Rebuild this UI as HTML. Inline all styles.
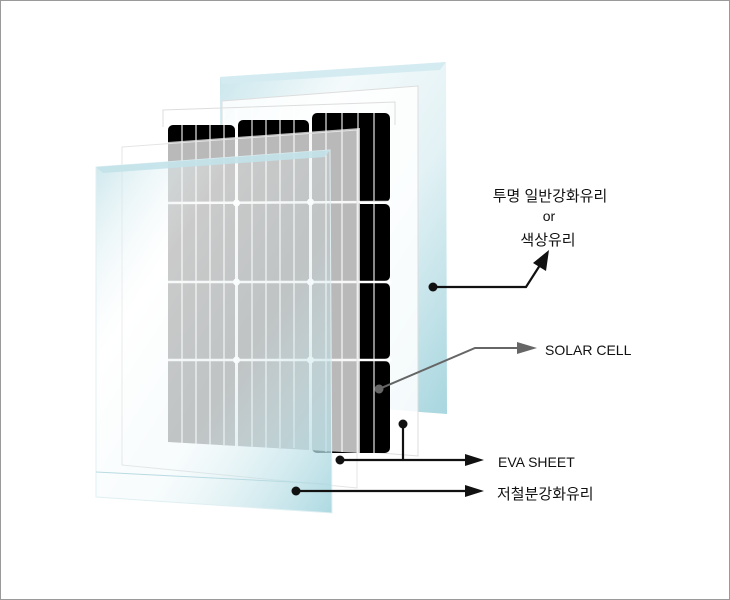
<!DOCTYPE html>
<html><head><meta charset="utf-8"><style>
html,body{margin:0;padding:0;background:#fff}
svg{display:block}
text{font-family:"Liberation Sans","Noto Sans CJK KR",sans-serif;fill:#111}
</style></head><body>
<svg width="730" height="600" viewBox="0 0 730 600" xmlns="http://www.w3.org/2000/svg">
<defs>
<linearGradient id="g1" x1="0" y1="0" x2="1" y2="1">
<stop offset="0" stop-color="#c9e6ec"/><stop offset="0.3" stop-color="#f4fafb"/><stop offset="0.6" stop-color="#e3f2f5"/><stop offset="1" stop-color="#a8d6df"/>
</linearGradient>
<linearGradient id="g2" x1="0" y1="0" x2="1" y2="1">
<stop offset="0" stop-color="#bfe1e8" stop-opacity="0.85"/><stop offset="0.3" stop-color="#ffffff" stop-opacity="0.25"/><stop offset="0.6" stop-color="#d8eef2" stop-opacity="0.2"/><stop offset="1" stop-color="#a9d7e0" stop-opacity="0.95"/>
</linearGradient>
</defs>
<rect x="0.5" y="0.5" width="729" height="599" fill="#fff" stroke="#9a9a9a"/>
<polygon points="220,77 446,62 447,414 420,412 220,395" fill="url(#g1)"/>
<polygon points="220,77 446,62 440,70 222,84" fill="#d4ecf1"/>
<polygon points="222,101 418,86 418,456 222,440" fill="#fff" fill-opacity="0.85" stroke="#ddd" stroke-width="1"/>
<g fill="#000">
<rect x="168" y="125" width="67" height="77" rx="5"/>
<rect x="238" y="120" width="71" height="82" rx="5"/>
<rect x="312" y="113" width="78" height="89" rx="5"/>
<rect x="168" y="204" width="67" height="77" rx="5"/>
<rect x="238" y="204" width="71" height="77" rx="5"/>
<rect x="312" y="204" width="78" height="77" rx="5"/>
<rect x="168" y="283" width="67" height="76" rx="5"/>
<rect x="238" y="283" width="71" height="76" rx="5"/>
<rect x="312" y="283" width="78" height="76" rx="5"/>
<rect x="168" y="361" width="67" height="80" rx="5"/>
<rect x="238" y="361" width="71" height="85" rx="5"/>
<rect x="312" y="361" width="78" height="92" rx="5"/>
</g>
<polygon points="168,142 360,128 360,453 168,442" fill="#b9b9b9"/>
<g stroke="#fff" stroke-width="1.2" opacity="0.9">
<line x1="182" y1="110" x2="182" y2="445"/><line x1="196" y1="110" x2="196" y2="445"/><line x1="210" y1="110" x2="210" y2="445"/><line x1="224" y1="110" x2="224" y2="445"/>
<line x1="252" y1="105" x2="252" y2="448"/><line x1="266" y1="105" x2="266" y2="448"/><line x1="280" y1="105" x2="280" y2="448"/><line x1="294" y1="105" x2="294" y2="448"/>
<line x1="326" y1="100" x2="326" y2="452"/><line x1="342" y1="100" x2="342" y2="452"/><line x1="358" y1="100" x2="358" y2="453"/><line x1="374" y1="100" x2="374" y2="453"/>
<line x1="236.5" y1="110" x2="236.5" y2="448" stroke-width="3"/><line x1="310.5" y1="105" x2="310.5" y2="452" stroke-width="3"/>
<line x1="165" y1="203" x2="392" y2="202" stroke-width="2.5"/><line x1="165" y1="282" x2="392" y2="282" stroke-width="2.5"/><line x1="165" y1="360" x2="392" y2="360" stroke-width="2.5"/>
</g>
<g fill="#fff"><circle cx="236.5" cy="203" r="3.5"/><circle cx="310.5" cy="202" r="3.5"/><circle cx="236.5" cy="282" r="3.5"/><circle cx="310.5" cy="282" r="3.5"/><circle cx="236.5" cy="360" r="3.5"/><circle cx="310.5" cy="360" r="3.5"/></g>
<polyline points="163,127 163,110 395,102 395,125" fill="none" stroke="#ddd"/>
<polygon points="122,147 357,130 357,488 122,465" fill="none" stroke="#e4e4e4"/>
<polygon points="96,167 330,150 332,513 96,497" fill="url(#g2)" stroke="#e0eff2"/>
<polygon points="96,167 330,150 325,157 103,173" fill="#c2e2e9" opacity="0.9"/>
<line x1="96" y1="472" x2="330" y2="484" stroke="#b9dbe2"/>
<g stroke="#111" stroke-width="2.2" fill="none">
<polyline points="433,287 526,287 542,262"/>
<line x1="403" y1="424" x2="403" y2="460"/>
<line x1="340" y1="460" x2="470" y2="460"/>
<line x1="296" y1="491" x2="470" y2="491"/>
</g>
<polygon points="549,250 533,263 546,271" fill="#111"/>
<polygon points="484,460 465,454 465,466" fill="#111"/>
<polygon points="484,491 465,485 465,497" fill="#111"/>
<g fill="#111"><circle cx="433" cy="287" r="4.5"/><circle cx="403" cy="424" r="4.5"/><circle cx="340" cy="460" r="4.5"/><circle cx="296" cy="491" r="4.5"/></g>
<polyline points="379,389 475,348 520,348" stroke="#666" stroke-width="2" fill="none"/>
<polygon points="537,348 517,342 517,354" fill="#666"/>
<circle cx="379" cy="389" r="4.5" fill="#666"/>
<text x="550" y="201" font-size="15" text-anchor="middle">투명 일반강화유리</text>
<text x="549" y="221" font-size="14" text-anchor="middle">or</text>
<text x="548" y="245" font-size="15" text-anchor="middle">색상유리</text>
<text x="545" y="355" font-size="14">SOLAR CELL</text>
<text x="498" y="467" font-size="14">EVA SHEET</text>
<text x="497" y="499" font-size="15">저철분강화유리</text>
</svg>
</body></html>
